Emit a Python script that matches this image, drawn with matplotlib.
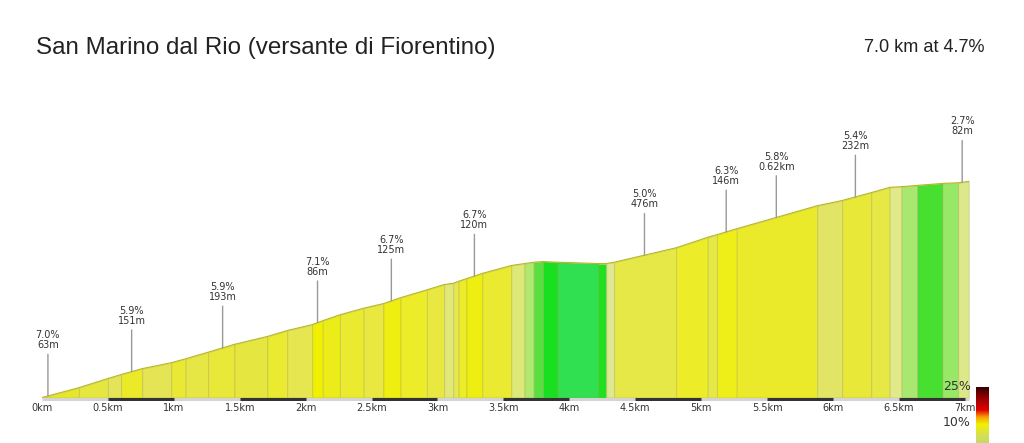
import numpy as np
import matplotlib
matplotlib.use("Agg")
import matplotlib.pyplot as plt
from matplotlib.colors import LinearSegmentedColormap

# profile points: distance (km) and elevation gain from the start (m)
dist_km = [0.00, 0.28, 0.50, 0.60, 0.76, 0.98, 1.09, 1.26, 1.46, 1.71, 1.86,
           2.05, 2.13, 2.26, 2.44, 2.59, 2.72, 2.92, 3.05, 3.12, 3.16, 3.22,
           3.34, 3.56, 3.66, 3.73, 3.80, 3.91, 4.22, 4.28, 4.34, 4.81, 5.05,
           5.12, 5.27, 5.88, 6.07, 6.29, 6.43, 6.52, 6.64, 6.83, 6.95, 7.03]
elev_m = [0, 15, 29, 35, 44, 53, 59, 69, 81, 93, 102,
          111, 117, 126, 136, 143, 152, 164, 172, 174, 177, 181,
          189, 201, 204, 206, 207, 206, 204, 204, 206, 228, 244,
          248, 257, 292, 300, 312, 320, 321, 323, 326, 327, 329]

# fill colour of each segment between two profile points
seg_colors = ["#e6e62a", "#e6e640", "#e4e458", "#eaea28", "#e4e455", "#e8e835",
              "#e6e645", "#e8e838", "#e6e640", "#eaea30", "#e6e650", "#f0f000",
              "#ecec18", "#eaea30", "#e8e840", "#eeee10", "#ecec28", "#e8e840",
              "#e2e878", "#e6e850", "#ecec28", "#eeee10", "#eaea30", "#dee878",
              "#b0e870", "#58e040", "#18e020", "#30e050", "#20e020", "#dee890",
              "#e6e848", "#ecec28", "#e6e845", "#eeee18", "#eaea2a", "#e2e465",
              "#e8e838", "#e6e845", "#e0ea88", "#a8e870", "#48e030", "#98e868",
              "#dce88a"]

# markers above the profile
mark_km = [0.045, 0.68, 1.37, 2.09, 2.65, 3.28, 4.57, 5.19, 5.57, 6.17, 6.98]
mark_grade = ["7.0%", "5.9%", "5.9%", "7.1%", "6.7%", "6.7%", "5.0%", "6.3%",
              "5.8%", "5.4%", "2.7%"]
mark_len = ["63m", "151m", "193m", "86m", "125m", "120m", "476m", "146m",
            "0.62km", "232m", "82m"]

tick_km = [0, 0.5, 1, 1.5, 2, 2.5, 3, 3.5, 4, 4.5, 5, 5.5, 6, 6.5, 7]
tick_labels = ["0km", "0.5km", "1km", "1.5km", "2km", "2.5km", "3km", "3.5km",
               "4km", "4.5km", "5km", "5.5km", "6km", "6.5km", "7km"]

W, H = 1024, 443
fig = plt.figure(figsize=(W / 100, H / 100), dpi=100)
fig.set_facecolor("white")

ax = fig.add_axes([42 / W, (H - 401) / H, (978 - 42) / W, (401 - 100) / H])
ax.set_xlim(0, 7.1)
ax.set_ylim(-5.3, 453)
ax.axis("off")

# coloured segments
for i in range(len(dist_km) - 1):
    xs = dist_km[i:i + 2]
    ys = elev_m[i:i + 2]
    ax.fill_between(xs, [0, 0], ys, facecolor=seg_colors[i],
                    edgecolor=(0.6, 0.6, 0.25, 0.3), linewidth=0.7)
ax.plot(dist_km, elev_m, color="#b8b820", linewidth=0.8)

# axis bar: grey with black every other half km
ax.plot([0, dist_km[-1]], [-2.3, -2.3], color="#d4d4d4", linewidth=2.2,
        solid_capstyle="butt")
for k in np.arange(0.5, 7.0, 1.0):
    ax.plot([k, k + 0.5], [-2.3, -2.3], color="#333333", linewidth=2.2,
            solid_capstyle="butt")

for k, lab in zip(tick_km, tick_labels):
    ax.text(k, -9, lab, ha="center", va="top", fontsize=7, color="#333333",
            family="DejaVu Sans")

# markers
for k, g, l in zip(mark_km, mark_grade, mark_len):
    e = np.interp(k, dist_km, elev_m)
    ax.annotate(f"{g}\n{l}", xy=(k, e), xytext=(0, 33),
                textcoords="offset points", ha="center", va="bottom",
                fontsize=7, color="#333333", linespacing=1.0,
                arrowprops=dict(arrowstyle="-", color="#999999", lw=1,
                                shrinkA=1, shrinkB=0))

# title and summary
fig.text(36 / W, 1 - 48 / H, "San Marino dal Rio (versante di Fiorentino)",
         ha="left", va="center", fontsize=17.4, color="#222222",
         family="Liberation Sans")
fig.text(985 / W, 1 - 47 / H, "7.0 km at 4.7%", ha="right", va="center",
         fontsize=13.1, color="#222222", family="Liberation Sans")

# grade colour scale in the lower right corner
cmap = LinearSegmentedColormap.from_list(
    "grade", [(0.0, "#b8d878"), (0.2, "#d8e050"), (0.38, "#f0f000"),
              (0.5, "#f8a000"), (0.62, "#e00000"), (0.8, "#a00000"),
              (1.0, "#3a0000")])
cax = fig.add_axes([976 / W, (H - 447) / H, 13 / W, 60 / H])
cax.imshow(np.linspace(1, 0, 100).reshape(-1, 1), aspect="auto", cmap=cmap,
           extent=[0, 1, 0, 25])
cax.set_xticks([])
cax.set_yticks([])
for s in cax.spines.values():
    s.set_visible(False)
for val, lab in [(25, "25%"), (10, "10%")]:
    py = 447 - val * 2.4
    fig.text(971 / W, 1 - py / H, lab, ha="right", va="center", fontsize=9,
             color="#333333", family="DejaVu Sans")

fig.savefig("out.png", dpi=100)
